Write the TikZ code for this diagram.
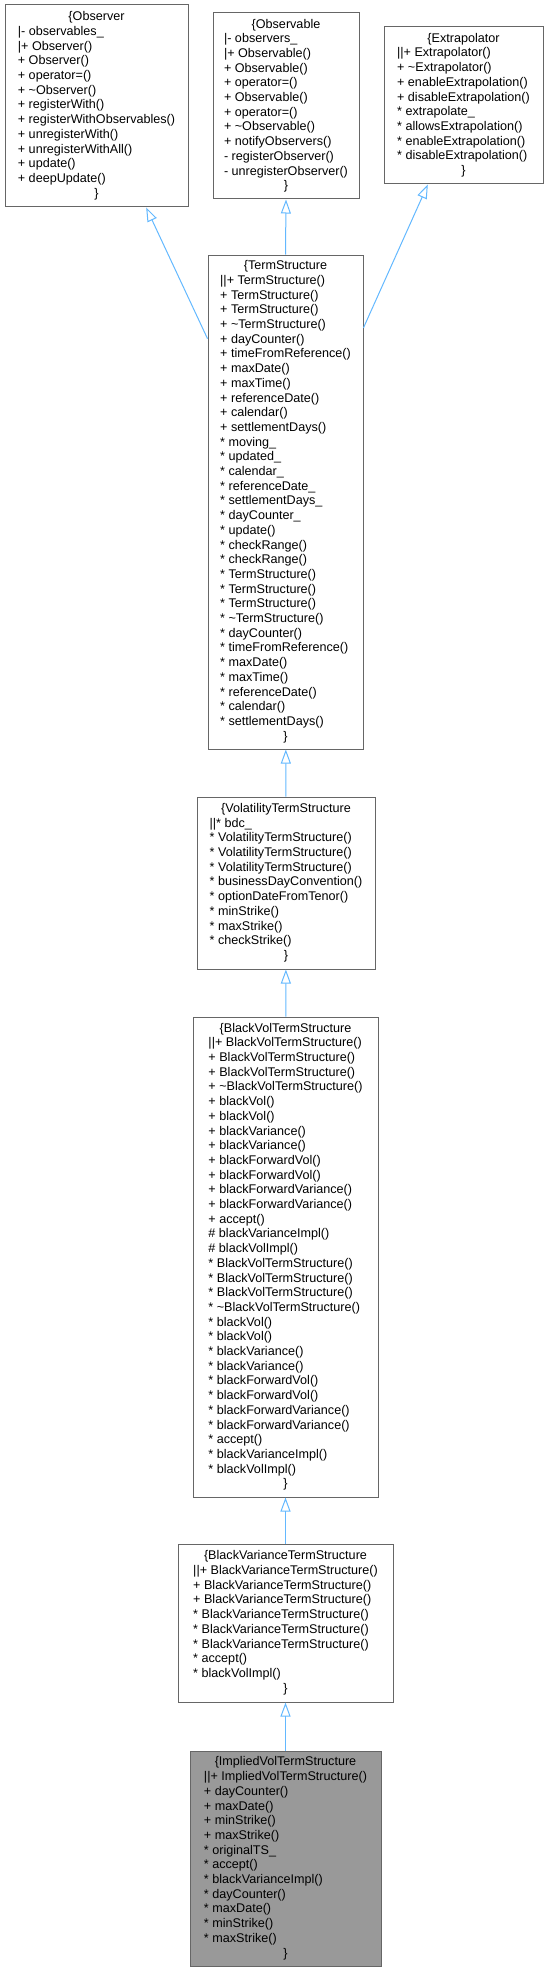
\documentclass[tikz,border=0pt]{standalone}
\usepackage{fontspec}
\setmainfont{Liberation Sans}
\usetikzlibrary{arrows.meta, calc}
\definecolor{edgeblue}{HTML}{63B8FF}
\definecolor{boxgray}{HTML}{666666}
\definecolor{leafgray}{HTML}{999999}
\tikzset{
  clsbox/.style 2 args={rectangle, draw=boxgray, fill=white, line width=1pt,
                        inner sep=0pt, minimum width=#1, minimum height=#2,
                        font=\fontsize{12.6}{14.7}\selectfont},
  leafbox/.style={fill=leafgray},
  inherit/.style={-{Triangle[open, length=14pt, width=10pt]}, draw=edgeblue, line width=1pt},
}
\newcommand{\clstitle}[1]{\multicolumn{1}{@{}c@{}}{#1}}
\newcommand{\tld}{\textasciitilde}

\begin{document}
\begin{tikzpicture}[x=1pt, y=-1pt]
  \useasboundingbox (0,0) rectangle (548,1972);

  % base classes
  \node[clsbox={183pt}{202pt}] (observer) at (96.5,106) {\begin{tabular}{@{}l@{}}
    \clstitle{\{Observer}\\
    |- observables\_\\
    |+ Observer()\\
    + Observer()\\
    + operator=()\\
    + \tld Observer()\\
    + registerWith()\\
    + registerWithObservables()\\
    + unregisterWith()\\
    + unregisterWithAll()\\
    + update()\\
    + deepUpdate()\\
    \clstitle{\}}
  \end{tabular}};
  \node[clsbox={146pt}{186pt}] (observable) at (286,106) {\begin{tabular}{@{}l@{}}
    \clstitle{\{Observable}\\
    |- observers\_\\
    |+ Observable()\\
    + Observable()\\
    + operator=()\\
    + Observable()\\
    + operator=()\\
    + \tld Observable()\\
    + notifyObservers()\\
    - registerObserver()\\
    - unregisterObserver()\\
    \clstitle{\}}
  \end{tabular}};
  \node[clsbox={159pt}{157pt}] (extrap) at (463.5,105.5) {\begin{tabular}{@{}l@{}}
    \clstitle{\{Extrapolator}\\
    ||+ Extrapolator()\\
    + \tld Extrapolator()\\
    + enableExtrapolation()\\
    + disableExtrapolation()\\
    {*} extrapolate\_\\
    {*} allowsExtrapolation()\\
    {*} enableExtrapolation()\\
    {*} disableExtrapolation()\\
    \clstitle{\}}
  \end{tabular}};

  % term structures
  \node[clsbox={155pt}{494pt}] (termstr) at (285.5,502) {\begin{tabular}{@{}l@{}}
    \clstitle{\{TermStructure}\\
    ||+ TermStructure()\\
    + TermStructure()\\
    + TermStructure()\\
    + \tld TermStructure()\\
    + dayCounter()\\
    + timeFromReference()\\
    + maxDate()\\
    + maxTime()\\
    + referenceDate()\\
    + calendar()\\
    + settlementDays()\\
    {*} moving\_\\
    {*} updated\_\\
    {*} calendar\_\\
    {*} referenceDate\_\\
    {*} settlementDays\_\\
    {*} dayCounter\_\\
    {*} update()\\
    {*} checkRange()\\
    {*} checkRange()\\
    {*} TermStructure()\\
    {*} TermStructure()\\
    {*} TermStructure()\\
    {*} \tld TermStructure()\\
    {*} dayCounter()\\
    {*} timeFromReference()\\
    {*} maxDate()\\
    {*} maxTime()\\
    {*} referenceDate()\\
    {*} calendar()\\
    {*} settlementDays()\\
    \clstitle{\}}
  \end{tabular}};
  \node[clsbox={178pt}{172pt}] (voltermstr) at (286,883) {\begin{tabular}{@{}l@{}}
    \clstitle{\{VolatilityTermStructure}\\
    ||* bdc\_\\
    {*} VolatilityTermStructure()\\
    {*} VolatilityTermStructure()\\
    {*} VolatilityTermStructure()\\
    {*} businessDayConvention()\\
    {*} optionDateFromTenor()\\
    {*} minStrike()\\
    {*} maxStrike()\\
    {*} checkStrike()\\
    \clstitle{\}}
  \end{tabular}};
  \node[clsbox={185pt}{480pt}] (blackvol) at (285.5,1257) {\begin{tabular}{@{}l@{}}
    \clstitle{\{BlackVolTermStructure}\\
    ||+ BlackVolTermStructure()\\
    + BlackVolTermStructure()\\
    + BlackVolTermStructure()\\
    + \tld BlackVolTermStructure()\\
    + blackVol()\\
    + blackVol()\\
    + blackVariance()\\
    + blackVariance()\\
    + blackForwardVol()\\
    + blackForwardVol()\\
    + blackForwardVariance()\\
    + blackForwardVariance()\\
    + accept()\\
    \# blackVarianceImpl()\\
    \# blackVolImpl()\\
    {*} BlackVolTermStructure()\\
    {*} BlackVolTermStructure()\\
    {*} BlackVolTermStructure()\\
    {*} \tld BlackVolTermStructure()\\
    {*} blackVol()\\
    {*} blackVol()\\
    {*} blackVariance()\\
    {*} blackVariance()\\
    {*} blackForwardVol()\\
    {*} blackForwardVol()\\
    {*} blackForwardVariance()\\
    {*} blackForwardVariance()\\
    {*} accept()\\
    {*} blackVarianceImpl()\\
    {*} blackVolImpl()\\
    \clstitle{\}}
  \end{tabular}};
  \node[clsbox={215pt}{158pt}] (blackvar) at (285.5,1623) {\begin{tabular}{@{}l@{}}
    \clstitle{\{BlackVarianceTermStructure}\\
    ||+ BlackVarianceTermStructure()\\
    + BlackVarianceTermStructure()\\
    + BlackVarianceTermStructure()\\
    {*} BlackVarianceTermStructure()\\
    {*} BlackVarianceTermStructure()\\
    {*} BlackVarianceTermStructure()\\
    {*} accept()\\
    {*} blackVolImpl()\\
    \clstitle{\}}
  \end{tabular}};
  \node[clsbox={191pt}{215pt}, leafbox] (impliedvol) at (285.5,1858.5) {\begin{tabular}{@{}l@{}}
    \clstitle{\{ImpliedVolTermStructure}\\
    ||+ ImpliedVolTermStructure()\\
    + dayCounter()\\
    + maxDate()\\
    + minStrike()\\
    + maxStrike()\\
    {*} originalTS\_\\
    {*} accept()\\
    {*} blackVarianceImpl()\\
    {*} dayCounter()\\
    {*} maxDate()\\
    {*} minStrike()\\
    {*} maxStrike()\\
    \clstitle{\}}
  \end{tabular}};

  % inheritance
  \draw[inherit] ($(termstr.north west)!0.17!(termstr.south west)$)
    -- ($(observer.south west)!0.77!(observer.south east)$);
  \draw[inherit] (termstr.north) -- (observable.south);
  \draw[inherit] ($(termstr.north east)!0.148!(termstr.south east)$)
    -- ($(extrap.south west)!0.277!(extrap.south east)$);
  \foreach \child/\parent in {voltermstr/termstr, blackvol/voltermstr,
                              blackvar/blackvol, impliedvol/blackvar}
    \draw[inherit] (\child) -- (\parent);
\end{tikzpicture}
\end{document}
